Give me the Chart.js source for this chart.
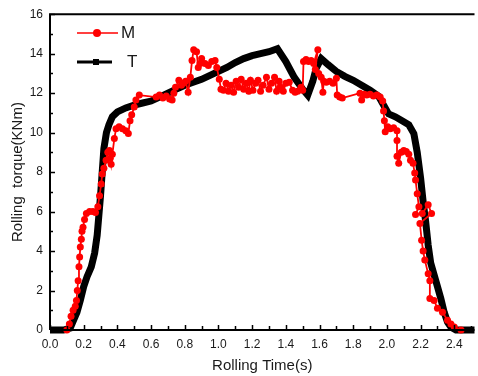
<!DOCTYPE html>
<html>
<head>
<meta charset="utf-8">
<script src="https://cdn.jsdelivr.net/npm/chart.js@4"></script>
<style>
  html, body { margin: 0; padding: 0; background: #fff; }
  #wrap { width: 478px; height: 376px; }
</style>
</head>
<body>
<div id="wrap"><canvas id="myChart" width="478" height="376"></canvas></div>
<script>
// T curve (black)
const tX = [0, 0.08, 0.12, 0.14, 0.16, 0.18, 0.20, 0.22, 0.245, 0.265,
    0.28, 0.29, 0.30, 0.31, 0.32, 0.335, 0.35, 0.37, 0.40, 0.45,
    0.50, 0.55, 0.60, 0.65, 0.70, 0.75, 0.80, 0.85, 0.90, 0.95,
    1.00, 1.05, 1.10, 1.15, 1.20, 1.25, 1.30, 1.35, 1.40, 1.45,
    1.50, 1.53, 1.56, 1.58, 1.61, 1.65, 1.70, 1.75, 1.80, 1.85,
    1.90, 1.95, 1.98, 2.01, 2.05, 2.09, 2.13, 2.16, 2.18, 2.20,
    2.215, 2.23, 2.245, 2.26, 2.28, 2.30, 2.32, 2.34, 2.36, 2.38,
    2.41, 2.45, 2.52];
const tY = [0, 0, 0.1, 0.5, 0.9, 1.5, 2.2, 2.7, 3.2, 3.9,
    4.8, 5.8, 6.8, 8.0, 9.2, 10.0, 10.4, 10.8, 11.05, 11.25,
    11.4, 11.5, 11.6, 11.8, 12.0, 12.2, 12.4, 12.55, 12.7, 12.9,
    13.1, 13.3, 13.55, 13.75, 13.9, 14.0, 14.1, 14.25, 13.6, 12.8,
    12.2, 11.9, 12.6, 13.25, 13.75, 13.45, 13.1, 12.85, 12.65, 12.4,
    12.15, 11.85, 11.4, 10.95, 10.8, 10.6, 10.4, 9.95, 9.0, 7.7,
    6.5, 5.5, 4.3, 3.4, 2.8, 2.2, 1.6, 0.9, 0.4, 0.15,
    0, 0, 0];

// M curve (red, measured)
const mX = [0.100, 0.115, 0.125, 0.137, 0.150, 0.157, 0.162, 0.167, 0.172, 0.176,
    0.180, 0.186, 0.190, 0.196, 0.205, 0.216, 0.235, 0.255, 0.270, 0.284,
    0.294, 0.304, 0.310, 0.320, 0.333, 0.343, 0.353, 0.358, 0.363, 0.370,
    0.382, 0.392, 0.410, 0.430, 0.450, 0.465, 0.475, 0.485, 0.500, 0.510,
    0.530, 0.630, 0.650, 0.670, 0.690, 0.710, 0.725, 0.735, 0.745, 0.765,
    0.780, 0.790, 0.805, 0.820, 0.833, 0.843, 0.853, 0.870, 0.880, 0.890,
    0.900, 0.920, 0.940, 0.960, 0.980, 0.990, 1.005, 1.015, 1.030, 1.045,
    1.060, 1.075, 1.090, 1.105, 1.120, 1.135, 1.150, 1.165, 1.180, 1.190,
    1.205, 1.220, 1.235, 1.250, 1.265, 1.285, 1.300, 1.315, 1.333, 1.345,
    1.360, 1.370, 1.385, 1.400, 1.420, 1.440, 1.455, 1.470, 1.490, 1.500,
    1.505, 1.520, 1.535, 1.550, 1.565, 1.590, 1.575, 1.595, 1.610, 1.620,
    1.625, 1.640, 1.660, 1.680, 1.700, 1.705, 1.720, 1.735, 1.840, 1.850,
    1.865, 1.880, 1.900, 1.920, 1.940, 1.960, 1.975, 1.980, 1.985, 1.990,
    2.005, 2.020, 2.040, 2.060, 2.060, 2.060, 2.070, 2.085, 2.100, 2.115,
    2.130, 2.140, 2.155, 2.165, 2.170, 2.180, 2.190, 2.170, 2.210, 2.245,
    2.265, 2.196, 2.206, 2.215, 2.225, 2.245, 2.255, 2.255, 2.280, 2.300,
    2.330, 2.360, 2.380, 2.400, 2.440];
const mY = [0, 0.3, 0.7, 1.0, 1.2, 1.5, 2.0, 2.5, 3.2, 3.7,
    4.2, 4.6, 5.0, 5.2, 5.6, 5.9, 6.0, 6.0, 5.95, 6.25,
    6.8, 7.4, 7.9, 8.2, 8.6, 9.0, 9.1, 8.7, 8.4, 8.9,
    9.7, 10.2, 10.3, 10.2, 10.1, 9.95, 10.6, 10.9, 11.3, 11.65,
    11.9, 11.8, 11.9, 11.75, 11.85, 11.7, 11.65, 12.0, 12.3, 12.65,
    12.4, 12.5, 12.6, 12.05, 12.8, 13.65, 14.2, 14.1, 13.3, 13.5,
    13.75, 13.5, 13.4, 13.6, 13.65, 13.3, 12.7, 12.2, 12.15, 12.5,
    12.1, 12.4, 12.05, 12.6, 12.3, 12.7, 12.2, 12.5, 12.1, 12.65,
    12.15, 12.5, 12.65, 12.1, 12.4, 12.8, 12.2, 12.5, 12.8, 12.1,
    12.6, 12.3, 12.1, 12.5, 12.55, 12.15, 12.05, 12.1, 12.3, 12.15,
    13.6, 13.7, 13.6, 13.65, 13.5, 14.2, 13.2, 13.0, 12.8, 12.05,
    12.6, 12.55, 12.6, 12.5, 12.75, 11.9, 11.8, 11.75, 12.0, 11.65,
    11.95, 11.9, 11.95, 11.85, 11.9, 11.8, 11.6, 11.1, 10.6, 10.05,
    10.3, 10.2, 10.25, 10.1, 9.6, 8.8, 8.45, 9.0, 9.1, 9.05,
    8.9, 8.6, 8.45, 7.95, 7.6, 6.9, 6.25, 5.85, 5.9, 6.35,
    5.9, 5.4, 4.55, 4.0, 3.55, 2.85, 2.5, 1.6, 1.5, 1.1,
    0.9, 0.5, 0.3, 0.15, 0];

const xTicks = [0.0, 0.2, 0.4, 0.6, 0.8, 1.0, 1.2, 1.4, 1.6, 1.8, 2.0, 2.2, 2.4];
const yTicks = [0, 2, 4, 6, 8, 10, 12, 14, 16];

const FONT = "'Liberation Sans', Arial, sans-serif";
const TEXT = "#1a1a1a";

// frame, inward ticks and the legend box
const framePlugin = {
    id: "frame",
    afterDraw(chart) {
        const ctx = chart.ctx;
        const a = chart.chartArea;
        const xs = chart.scales.x, ys = chart.scales.y;
        ctx.save();
        ctx.strokeStyle = "#000";
        ctx.lineWidth = 2;
        ctx.beginPath();
        ctx.moveTo(a.left, a.bottom);
        ctx.lineTo(a.left, a.top);
        ctx.lineTo(a.right, a.top);
        ctx.moveTo(a.left, a.bottom);
        ctx.lineTo(a.right, a.bottom);
        ctx.stroke();

        ctx.lineWidth = 1.5;
        ctx.beginPath();
        for (let v = 0; v <= 2.5001; v += 0.1) {
            const px = Math.round(xs.getPixelForValue(v)) + 0.5;
            const major = Math.round(v * 10) % 2 === 0;
            ctx.moveTo(px, a.bottom);
            ctx.lineTo(px, a.bottom - (major ? 5 : 4));
        }
        for (let v = 0; v <= 16; v += 1) {
            const py = Math.round(ys.getPixelForValue(v)) + 0.5;
            const major = v % 2 === 0;
            ctx.moveTo(a.left, py);
            ctx.lineTo(a.left + (major ? 5 : 3), py);
        }
        ctx.stroke();

        // legend
        ctx.strokeStyle = "#ff0000";
        ctx.fillStyle = "#ff0000";
        ctx.lineWidth = 1.5;
        ctx.beginPath();
        ctx.moveTo(77, 33);
        ctx.lineTo(118, 33);
        ctx.stroke();
        ctx.beginPath();
        ctx.arc(97, 33, 4, 0, Math.PI * 2);
        ctx.fill();

        ctx.strokeStyle = "#000";
        ctx.fillStyle = "#000";
        ctx.lineWidth = 3;
        ctx.beginPath();
        ctx.moveTo(77, 62);
        ctx.lineTo(112, 62);
        ctx.stroke();
        ctx.fillRect(93, 59, 6, 6);

        ctx.fillStyle = TEXT;
        ctx.font = "17px " + FONT;
        ctx.textBaseline = "middle";
        ctx.fillText("M", 121, 33);
        ctx.fillText("T", 127, 62);
        ctx.restore();
    }
};

const ctx = document.getElementById("myChart");
new Chart(ctx, {
    type: "scatter",
    data: {
        datasets: [
            {
                label: "M",
                data: mX.map((x, i) => ({x: x, y: mY[i]})),
                showLine: true,
                borderColor: "#ff0000",
                backgroundColor: "#ff0000",
                borderWidth: 1.8,
                pointRadius: 3.5,
                pointBorderWidth: 0,
                pointHoverRadius: 0,
                clip: 4,
            },
            {
                label: "T",
                data: tX.map((x, i) => ({x: x, y: tY[i]})),
                showLine: true,
                borderColor: "#000",
                backgroundColor: "#000",
                borderWidth: 7,
                pointRadius: 0,
                clip: 4,
            },
        ],
    },
    options: {
        responsive: false,
        animation: false,
        events: [],
        layout: {padding: {top: 14, right: 0, left: 0, bottom: 0}},
        plugins: {legend: {display: false}, tooltip: {enabled: false}},
        scales: {
            x: {
                type: "linear",
                min: 0,
                max: 2.52,
                grid: {display: false, drawTicks: false},
                border: {display: false},
                afterBuildTicks: (s) => { s.ticks = xTicks.map((v) => ({value: v})); },
                afterFit: (s) => { s.height = 46; },
                ticks: {
                    padding: 7,
                    color: TEXT,
                    font: {family: FONT, size: 12},
                    maxRotation: 0,
                    autoSkip: false,
                    callback: (v) => v.toFixed(1),
                },
                title: {
                    display: true,
                    text: "Rolling Time(s)",
                    color: TEXT,
                    font: {family: FONT, size: 15},
                    padding: {top: 0, bottom: 1},
                },
            },
            y: {
                min: 0,
                max: 16,
                grid: {display: false, drawTicks: false},
                border: {display: false},
                afterBuildTicks: (s) => { s.ticks = yTicks.map((v) => ({value: v})); },
                afterFit: (s) => { s.width = 50; },
                ticks: {
                    padding: 7,
                    color: TEXT,
                    font: {family: FONT, size: 12},
                    autoSkip: false,
                },
                title: {
                    display: true,
                    text: "Rolling  torque(KNm)",
                    color: TEXT,
                    font: {family: FONT, size: 15},
                    padding: {top: 9, bottom: 0},
                },
            },
        },
    },
    plugins: [framePlugin],
});
</script>
</body>
</html>
